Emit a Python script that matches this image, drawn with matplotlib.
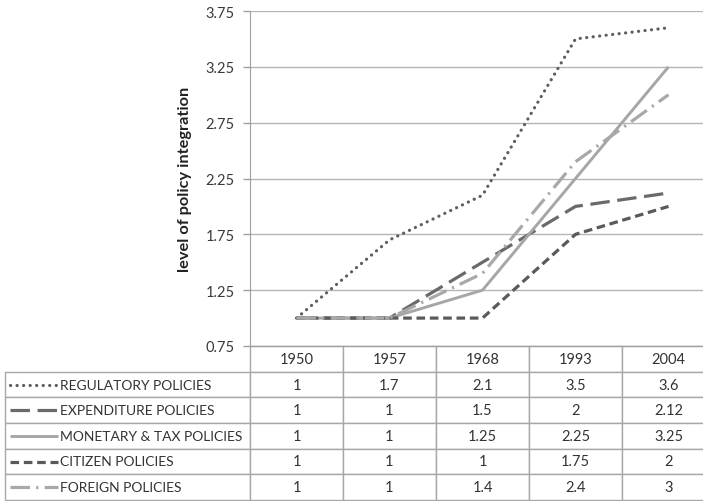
import matplotlib
matplotlib.use("Agg")
import matplotlib.pyplot as plt
import numpy as np

plt.rcParams['font.family'] = ['Lato', 'DejaVu Sans']
plt.rcParams['lines.scale_dashes'] = False

years = ["1950", "1957", "1968", "1993", "2004"]
series_names = ["REGULATORY POLICIES", "EXPENDITURE POLICIES", "MONETARY & TAX POLICIES",
                "CITIZEN POLICIES", "FOREIGN POLICIES"]
regulatory = [1, 1.7, 2.1, 3.5, 3.6]
expenditure = [1, 1, 1.5, 2, 2.12]
monetary = [1, 1, 1.25, 2.25, 3.25]
citizen = [1, 1, 1, 1.75, 2]
foreign = [1, 1, 1.4, 2.4, 3]
table_text = [["1", "1.7", "2.1", "3.5", "3.6"],
              ["1", "1", "1.5", "2", "2.12"],
              ["1", "1", "1.25", "2.25", "3.25"],
              ["1", "1", "1", "1.75", "2"],
              ["1", "1", "1.4", "2.4", "3"]]
yticks = [0.75, 1.25, 1.75, 2.25, 2.75, 3.25, 3.75]

series = [regulatory, expenditure, monetary, citizen, foreign]
styles = [
    dict(color="#5e5e5e", lw=2.3, ls=(0, (0.1, 4.6)), dash_capstyle="round"),
    dict(color="#6a6a6a", lw=2.3, ls=(0, (14, 5.5)), dash_capstyle="butt"),
    dict(color="#a6a6a6", lw=2.1, ls="-"),
    dict(color="#5a5a5a", lw=2.3, ls=(0, (6.2, 3.4)), dash_capstyle="butt"),
    dict(color="#a8a8a8", lw=2.3, ls=(0, (14, 4.5, 1.6, 4.5)), dash_capstyle="butt"),
]

W, H = 703, 502
fig = plt.figure(figsize=(W / 100, H / 100), dpi=100)
L, R, T, B = 250, 715, 12, 347
ax = fig.add_axes([L / W, (H - B) / H, (R - L) / W, (B - T) / H])

x = np.arange(len(years))
for vals, st in zip(series, styles):
    ax.plot(x, vals, color=st["color"], lw=st["lw"], linestyle=st["ls"],
            dash_capstyle=st.get("dash_capstyle", "butt"), solid_capstyle="butt",
            zorder=3)

ax.set_xlim(-0.5, len(years) - 0.5)
ax.set_ylim(0.75, 3.75)
ax.set_yticks(yticks)
ax.set_yticklabels([f"{v:.2f}" for v in yticks], fontsize=10.5, color="#3a3a3a")
ax.set_xticks([])
ax.yaxis.grid(True, color="#b5b5b5", lw=1.0)
ax.set_axisbelow(True)
ax.tick_params(axis="y", length=5, width=1, color="#a0a0a0", pad=6)
ax.spines["right"].set_visible(False)
ax.spines["top"].set_visible(False)
ax.spines["left"].set_color("#a0a0a0")
ax.spines["bottom"].set_color("#a0a0a0")
ax.set_ylabel("level of policy integration", fontsize=11.8, fontweight="bold",
              color="#222222", labelpad=10)

# table
tbl_left_px, tbl_bottom_px = 5, 501
ax_w, ax_h = R - L, B - T
bx = (tbl_left_px - L) / ax_w
bw = (R - tbl_left_px) / ax_w
bh = (tbl_bottom_px - B) / ax_h
by = -bh
label_w = L - tbl_left_px
col_w = (R - L) / len(years)
colWidths = [label_w] + [col_w] * len(years)
cell_text = [[n] + row for n, row in zip(series_names, table_text)]
tbl = ax.table(cellText=cell_text, colLabels=[""] + years, colWidths=colWidths,
               bbox=[bx, by, bw, bh], cellLoc="center")
tbl.auto_set_font_size(False)
tbl.set_fontsize(10.5)
for (r, c), cell in tbl.get_celld().items():
    cell.set_edgecolor("#a8a8a8")
    cell.set_linewidth(1.0)
    cell.get_text().set_color("#333333")
    if r == 0 and c == 0:
        cell.visible_edges = ""
    if c == 0 and r > 0:
        cell.get_text().set_ha("left")
        cell.get_text().set_fontsize(10)
        cell._loc = "left"
        cell.PAD = 55 / label_w

# legend samples in label cells
nrows = len(series_names) + 1
row_h = bh / nrows
for i, st in enumerate(styles):
    yc = by + bh - row_h * (i + 1.5)
    x0 = (10 - L) / ax_w
    x1 = (58 - L) / ax_w
    ax.plot([x0, x1], [yc, yc], transform=ax.transAxes, clip_on=False,
            color=st["color"], lw=st["lw"], linestyle=st["ls"],
            dash_capstyle=st.get("dash_capstyle", "butt"), solid_capstyle="butt",
            zorder=5)

fig.savefig("out.png", dpi=100)
